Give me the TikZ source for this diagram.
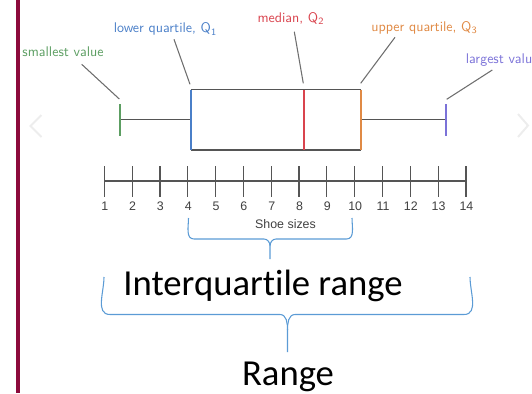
\documentclass[tikz,border=0pt]{standalone}
\usepackage{fontspec}
\newfontfamily\arialf{Liberation Sans}
\newfontfamily\calib[Ligatures=NoCommon]{Carlito}
\definecolor{maroon}{HTML}{8C0A3C}
\definecolor{cgreen}{HTML}{5C9E62}
\definecolor{cblue}{HTML}{4A7FC8}
\definecolor{cred}{HTML}{D9444E}
\definecolor{corange}{HTML}{E08A45}
\definecolor{cviolet}{HTML}{7B72D8}
\definecolor{lgray}{HTML}{555555}
\definecolor{bracec}{HTML}{5B9BD5}
\newcommand{\qsub}[1]{Q\raisebox{-0.45ex}{\fontsize{7.3}{8}\selectfont #1}}
\tikzset{
  boxline/.style={draw=lgray, line width=0.9pt},
  leader/.style={draw=lgray!85, line width=0.8pt},
  qmark/.style={line width=1.5pt},
  lab/.style={font=\sffamily\fontsize{10.5}{12}\selectfont, inner sep=0pt},
  num/.style={font=\arialf\fontsize{9.3}{10}\selectfont, inner sep=0pt},
  big/.style={font=\calib\fontsize{27.5}{30}\selectfont, inner sep=0pt},
  bracestyle/.style={draw=bracec, line width=0.8pt},
  chev/.style={draw=black!7, line width=1.5pt}
}
\begin{document}
\begin{tikzpicture}[x=0.75pt,y=-0.75pt]
\useasboundingbox (0,0) rectangle (532,393);
\begin{scope}
\clip (0,0) rectangle (532,393);
% left bar
\fill[maroon] (16,0) rectangle (20,393);
% faint chevrons
\draw[chev] (41.5,115) -- (30.5,126) -- (41.5,137);
\draw[chev] (518,114) -- (528,125.5) -- (518,137);
% box plot
\coordinate (minp) at (120,119.5);
\coordinate (q1t) at (190.5,89.5);
\coordinate (q1b) at (190.5,150);
\coordinate (q2t) at (304,89.5);
\coordinate (q2b) at (304,150);
\coordinate (q3t) at (360.5,89.5);
\coordinate (q3b) at (360.5,150);
\coordinate (maxp) at (446,119.5);
\draw[boxline] (q1t) -- (q3t) (q1b) -- (q3b);
\draw[boxline] (minp) -- (190.5,119.5) (360.5,119.5) -- (maxp);
\draw[qmark, cgreen] (120,104) -- (120,136);
\draw[qmark, cviolet] (446,104) -- (446,136);
\draw[qmark, cblue] (q1t) -- (q1b);
\draw[qmark, cred] (q2t) -- (q2b);
\draw[qmark, corange] (q3t) -- (q3b);
% labels
\node[lab, text=cgreen] (ls) at (63,52) {smallest value};
\node[lab, text=cblue] (lq1) at (165,29) {lower quartile,\ \qsub{1}};
\node[lab, text=cred] (lq2) at (290.5,18.5) {median,\ \qsub{2}};
\node[lab, text=corange] (lq3) at (424,27.5) {upper quartile,\ \qsub{3}};
\node[lab, text=cviolet, anchor=west] (lmax) at (465.5,60.5) {largest value};
\draw[leader] (81.7,64.3) -- (119.3,99);
\draw[leader] (174,39.3) -- (190,84.3);
\draw[leader] (294.3,31.7) -- (303.3,83.3);
\draw[leader] (395,37.3) -- (360.7,83.3);
\draw[leader] (492.3,70) -- (446.7,99.3);
% axis
\draw[boxline] (104.3,181) -- (466,181);
\foreach \i in {1,...,14} {
  \pgfmathsetmacro{\xx}{104.3+(\i-1)*27.82}
  \draw[boxline] (\xx,166) -- (\xx,196.5);
  \node[num, text=black!75] at (\xx+0.5,206) {\i};
}
\node[num, text=black!75] (shoe) at (285.5,224) {Shoe sizes};
% braces
\draw[bracestyle] (188.5,218) to[out=-90,in=180] (194,239) -- (264,239) to[out=0,in=90] (270,246) -- (270,259);
\draw[bracestyle] (352,218) to[out=-90,in=0] (346.5,239) -- (276,239) to[out=180,in=90] (270,246);
\node[big] (iqr) at (263,286) {Interquartile range};
\draw[bracestyle] (104,277) to[out=-90,in=180] (110,314.5) -- (280,314.5) to[out=0,in=90] (287.5,330) -- (287.5,352);
\draw[bracestyle] (470,277) to[out=-90,in=0] (464,314.5) -- (295,314.5) to[out=180,in=90] (287.5,330);
\node[big, anchor=base] (rng) at (288,385) {Range};
\end{scope}
\end{tikzpicture}
\end{document}
